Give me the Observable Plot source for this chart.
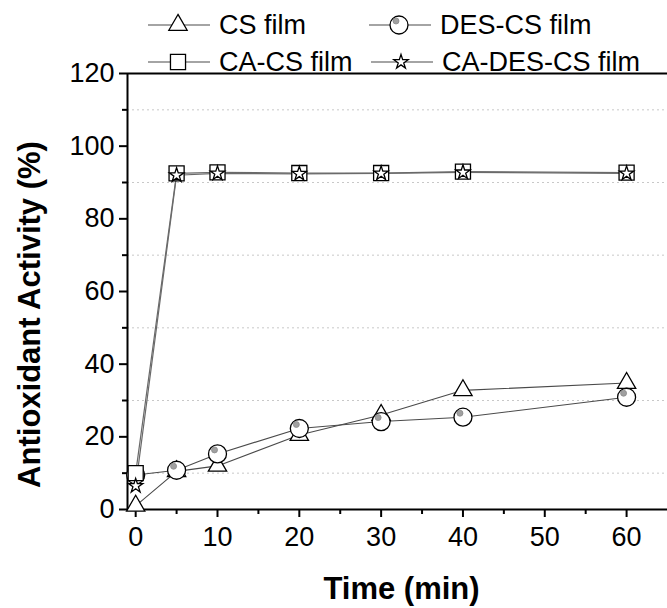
<!DOCTYPE html>
<html><head><meta charset="utf-8">
<script src="https://cdn.jsdelivr.net/npm/d3@7"></script>
<script src="https://cdn.jsdelivr.net/npm/@observablehq/plot@0.6"></script>
<style>
body{margin:0;background:#fff;font-family:"Liberation Sans",Arial,sans-serif;color:#000;}
#wrap{position:relative;width:667px;height:608px;overflow:hidden;}
#legend{position:absolute;left:0;top:0;width:667px;height:80px;z-index:2;pointer-events:none;}
.item{position:absolute;display:flex;align-items:center;font-size:27px;line-height:30px;white-space:nowrap;}
.item svg{display:block;margin-right:9px;}
#chart{position:absolute;left:0;top:48px;}
</style></head><body>
<div id="wrap"><div id="legend"></div><div id="chart"></div></div>
<script>
// ---- data ----
const time = [0, 5, 10, 20, 30, 40, 60];
const csFilm = [1, 10.5, 12, 20.5, 26, 32.8, 34.8];
const desCsFilm = [9.5, 10.8, 15.3, 22.3, 24.2, 25.4, 30.9];
const caCsFilm = [10, 92.5, 92.8, 92.6, 92.6, 93, 92.7];
const caDesCsFilm = [6.5, 92, 92.5, 92.4, 92.5, 92.8, 92.5];
const seriesNames = ["CS film", "DES-CS film", "CA-CS film", "CA-DES-CS film"];
const xTicks = [0, 10, 20, 30, 40, 50, 60];
const xMinorTicks = [5, 15, 25, 35, 45, 55];
const yTicks = [0, 20, 40, 60, 80, 100, 120];
const yMinorTicks = [10, 30, 50, 70, 90, 110];
const xLabel = "Time (min)";
const yLabel = "Antioxidant Activity (%)";

const xDomain = [-1, 65];
const yDomain = [0, 120];

const rows = (name, vals) => time.map((t, i) => ({series: name, time: t, value: vals[i]}));
const cs = rows(seriesNames[0], csFilm);
const desCs = rows(seriesNames[1], desCsFilm);
const caCs = rows(seriesNames[2], caCsFilm);
const caDesCs = rows(seriesNames[3], caDesCsFilm);

const font = "'Liberation Sans', Arial, sans-serif";
const lineColor = "#4a4a4a";
const sym = {
  tri: {symbol: "triangle", r: 6.8},
  circ: {symbol: "circle", r: 9},
  sq: {symbol: "square", r: 8.5},
  star: {symbol: "star", r: 4.5}
};
const markerStyle = {fill: "white", stroke: "black", strokeWidth: 1.3};

const plot = Plot.plot({
  width: 667,
  height: 560,
  marginTop: 25,
  marginBottom: 99,
  marginLeft: 127,
  marginRight: 0,
  style: {fontFamily: font, color: "black", background: "transparent"},
  x: {domain: xDomain},
  y: {domain: yDomain},
  marks: [
    Plot.gridY(yMinorTicks, {stroke: "#c8c8c8", strokeOpacity: 1, strokeDasharray: "2,3", strokeWidth: 1}),
    Plot.ruleY(yDomain, {stroke: "black", strokeWidth: 2}),
    Plot.ruleX([xDomain[0]], {stroke: "black", strokeWidth: 2}),
    Plot.axisY(yTicks, {tickSize: 8, tickPadding: 5, fontSize: 27, strokeWidth: 2, label: null}),
    Plot.axisY(yMinorTicks, {tickSize: 5, tickFormat: () => "", strokeWidth: 2, label: null}),
    Plot.axisX(xTicks, {tickSize: 8, tickPadding: 9, fontSize: 27, strokeWidth: 2, label: null}),
    Plot.axisX(xMinorTicks, {tickSize: 5, tickFormat: () => "", strokeWidth: 2, label: null}),
    Plot.line(cs, {x: "time", y: "value", stroke: lineColor, strokeWidth: 1.1}),
    Plot.line(desCs, {x: "time", y: "value", stroke: lineColor, strokeWidth: 1.1}),
    Plot.line(caCs, {x: "time", y: "value", stroke: "#6a6a6a", strokeWidth: 1.2}),
    Plot.line(caDesCs, {x: "time", y: "value", stroke: "#6a6a6a", strokeWidth: 1.2}),
    Plot.dot(cs, {x: "time", y: "value", ...sym.tri, ...markerStyle}),
    Plot.dot(desCs, {x: "time", y: "value", ...sym.circ, ...markerStyle}),
    Plot.dot(desCs, {x: "time", y: "value", r: 3, dx: -3, dy: -4, fill: "#a0a0a0", stroke: "#8a8a8a", strokeWidth: 0.8}),
    Plot.dot(caCs, {x: "time", y: "value", ...sym.sq, ...markerStyle}),
    Plot.dot(caDesCs, {x: "time", y: "value", ...sym.star, ...markerStyle}),
    Plot.text([yLabel], {frameAnchor: "left", textAnchor: "middle", lineAnchor: "middle", dx: -97, dy: 23, rotate: -90, fontSize: 31, fontWeight: "bold", fill: "black"}),
    Plot.text([xLabel], {frameAnchor: "bottom", textAnchor: "middle", lineAnchor: "middle", dx: 4, dy: 80, fontSize: 31, fontWeight: "bold", fill: "black"})
  ]
});
document.getElementById("chart").appendChild(plot);

// ---- legend (HTML above the plot) ----
function icon(kind) {
  const w = 62, h = 24, cx = 30, cy = 12;
  const s = sym[kind];
  const size = Math.PI * s.r * s.r;
  const type = {tri: d3.symbolTriangle, circ: d3.symbolCircle, sq: d3.symbolSquare, star: d3.symbolStar}[kind];
  const path = d3.symbol(type, size)();
  let extra = "";
  if (kind === "circ") extra = `<circle cx="${cx - 3}" cy="${cy - 4}" r="3" fill="#a0a0a0" stroke="#8a8a8a" stroke-width="0.8"/>`;
  return `<svg width="${w}" height="${h}"><line x1="0" x2="${w}" y1="${cy}" y2="${cy}" stroke="${lineColor}" stroke-width="1.2"/>` +
    `<path d="${path}" transform="translate(${cx},${cy})" fill="white" stroke="black" stroke-width="1.3"/>${extra}</svg>`;
}
const legendItems = [
  {name: seriesNames[0], kind: "tri", left: 148, top: 25},
  {name: seriesNames[1], kind: "circ", left: 369, top: 25},
  {name: seriesNames[2], kind: "sq", left: 148, top: 62},
  {name: seriesNames[3], kind: "star", left: 371, top: 62}
];
const legend = document.getElementById("legend");
for (const it of legendItems) {
  const d = document.createElement("div");
  d.className = "item";
  d.style.left = it.left + "px";
  d.style.top = (it.top - 15) + "px";
  d.innerHTML = icon(it.kind) + `<span>${it.name}</span>`;
  legend.appendChild(d);
}
</script>
</body></html>
